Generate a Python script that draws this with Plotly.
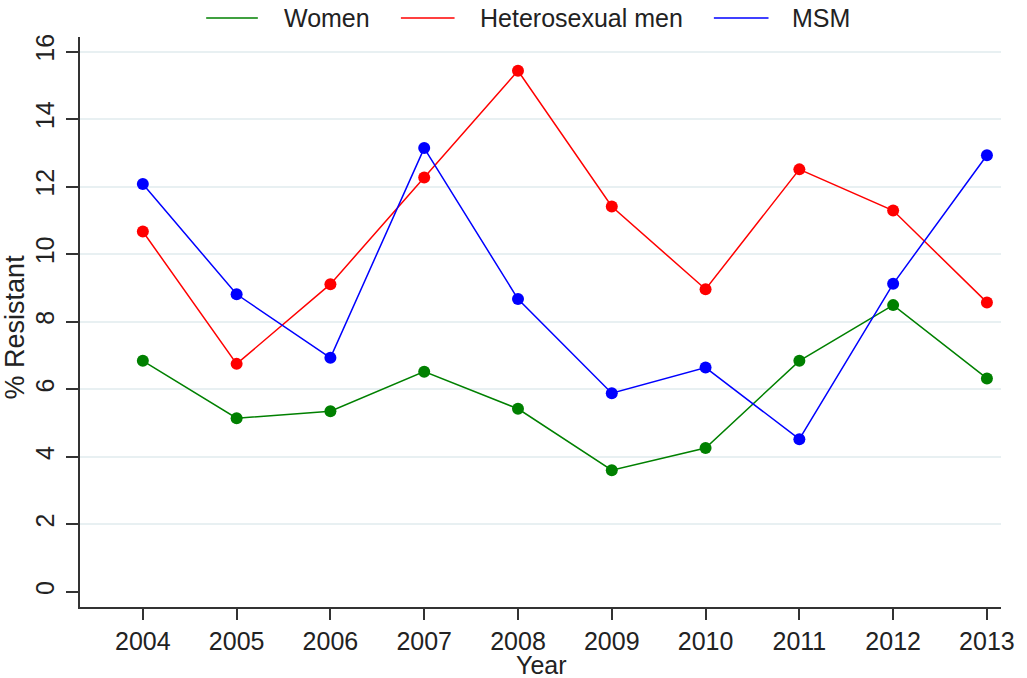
import plotly.graph_objects as go

years = [2004, 2005, 2006, 2007, 2008, 2009, 2010, 2011, 2012, 2013]
women = [6.84, 5.14, 5.35, 6.52, 5.42, 3.60, 4.26, 6.84, 8.49, 6.32]
hetero_men = [10.67, 6.75, 9.11, 12.27, 15.43, 11.41, 8.96, 12.51, 11.29, 8.57]
msm = [12.08, 8.81, 6.93, 13.14, 8.67, 5.88, 6.64, 4.52, 9.12, 12.93]

series_names = ["Women", "Heterosexual men", "MSM"]
series_values = [women, hetero_men, msm]
series_colors = ["#008000", "#ff0000", "#0000ff"]
y_ticks = [0, 2, 4, 6, 8, 10, 12, 14, 16]

FONT = "Liberation Sans, Arial, sans-serif"
FIG_W, FIG_H = 1027, 678

fig = go.Figure()
for name, vals, col in zip(series_names, series_values, series_colors):
    fig.add_trace(go.Scatter(
        x=years, y=vals, name=name, mode="lines+markers",
        line=dict(color=col, width=1.5),
        marker=dict(color=col, size=12, symbol="circle"),
        showlegend=False,
    ))

L, R, T, B = 80, 1007, 37, 607
W, H = R - L, B - T
def px(x):
    return (x - L) / W
def py(y):
    return (B - y) / H

legend_items = [
    (207, 259, 283),
    (403, 457, 481),
    (718, 773, 795),
]
for (x0, x1, tx), name, col in zip(legend_items, series_names, series_colors):
    fig.add_shape(type="line", xref="paper", yref="paper",
                  x0=px(x0), x1=px(x1), y0=py(18), y1=py(18),
                  line=dict(color=col, width=1.5))
    fig.add_annotation(xref="paper", yref="paper", x=px(tx), y=py(18),
                       text=name, showarrow=False, xanchor="left", yanchor="middle",
                       font=dict(family=FONT, size=25, color="#222222"))

fig.add_annotation(xref="paper", yref="paper", x=px(15), y=py(327),
                   text="% Resistant", textangle=-90, showarrow=False,
                   xanchor="center", yanchor="middle",
                   font=dict(family=FONT, size=27, color="#222222"))
fig.add_annotation(xref="paper", yref="paper", x=px(545), y=py(665),
                   text="Year", showarrow=False,
                   xanchor="center", yanchor="middle",
                   font=dict(family=FONT, size=25, color="#222222"))

fig.update_xaxes(
    range=[2003.33, 2013.15],
    tickvals=years, ticktext=[str(y) for y in years],
    showgrid=False, zeroline=False,
    showline=True, linecolor="#333333", linewidth=2,
    ticks="outside", ticklen=11, tickwidth=1.5, tickcolor="#333333",
    tickfont=dict(family=FONT, size=25, color="#222222"),
    ticklabelstandoff=0,
)
fig.update_yaxes(
    range=[-0.45, 16.43],
    tickvals=y_ticks, ticktext=[str(v) for v in y_ticks],
    tickangle=-90,
    showgrid=True, gridcolor="#e8f0f2", gridwidth=1.5,
    zeroline=True, zerolinecolor="white", zerolinewidth=2,
    showline=True, linecolor="#333333", linewidth=2,
    ticks="outside", ticklen=12, tickwidth=1.5, tickcolor="#333333",
    tickfont=dict(family=FONT, size=25, color="#222222"),
    ticklabelstandoff=2,
)

fig.update_layout(
    width=FIG_W, height=FIG_H,
    margin=dict(l=L, r=FIG_W - R, t=T, b=FIG_H - B),
    paper_bgcolor="white", plot_bgcolor="white",
    showlegend=False,
)

fig.write_html(
    "out.html",
    config={"displayModeBar": False},
    post_script="document.body.style.margin='0';document.body.style.overflow='hidden';",
)
